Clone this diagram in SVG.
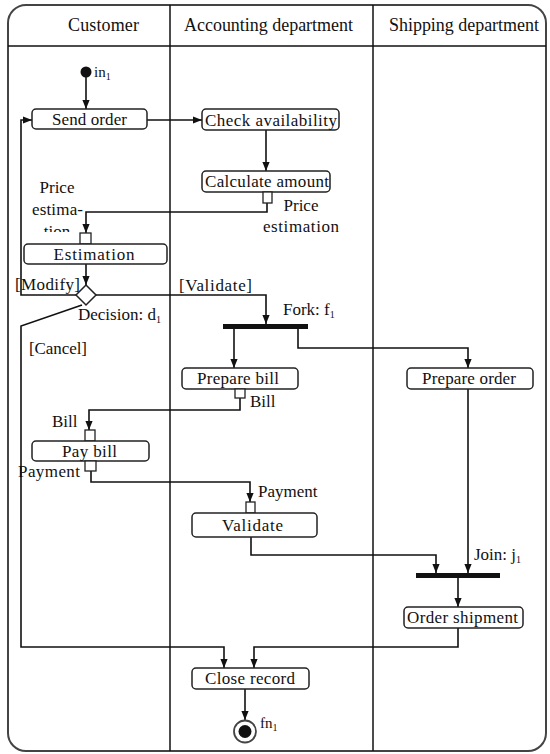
<svg xmlns="http://www.w3.org/2000/svg" width="550" height="754" viewBox="0 0 550 754">
<style>
text{font-family:"Times New Roman","Liberation Serif",Times,"DejaVu Serif","Noto Serif",serif;font-size:17px;fill:#111}
.hd{font-size:18px}
.sub{font-size:10px}
.box{fill:#fff;stroke:#222;stroke-width:1.5}
.pin{fill:#fff;stroke:#222;stroke-width:1.3}
.ln{fill:none;stroke:#111;stroke-width:1.6}
.lane{fill:none;stroke:#111;stroke-width:1.5}
.bar{fill:#111}
.c{text-anchor:middle}
</style>
<defs>
<marker id="ah" viewBox="0 0 10 10" refX="10" refY="5" markerWidth="9" markerHeight="9" orient="auto" markerUnits="userSpaceOnUse"><path d="M0,1 L10,5 L0,9 z" fill="#111"/></marker>
<clipPath id="clipTion"><rect x="0" y="170" width="170" height="62"/></clipPath>
</defs>
<rect width="550" height="754" fill="#fff"/>
<g id="frame">
<rect x="8" y="5" width="538" height="746" rx="18" ry="18" fill="none" stroke="#444" stroke-width="2"/>
<line class="lane" x1="8" y1="46" x2="546" y2="46"/>
<line class="lane" x1="170" y1="5" x2="170" y2="751"/>
<line class="lane" x1="373" y1="5" x2="373" y2="751"/>
<text class="hd c" x="103.5" y="31" textLength="71">Customer</text>
<text class="hd c" x="268.5" y="31" textLength="169">Accounting department</text>
<text class="hd c" x="464" y="31" textLength="150">Shipping department</text>
</g>
<g id="connectors">
<line class="ln" x1="86" y1="77" x2="86" y2="109" marker-end="url(#ah)"/>
<line class="ln" x1="147" y1="120" x2="202" y2="120" marker-end="url(#ah)"/>
<line class="ln" x1="266" y1="130" x2="266" y2="171" marker-end="url(#ah)"/>
<polyline class="ln" points="267,203 267,212 86,212 86,233" marker-end="url(#ah)"/>
<line class="ln" x1="86" y1="264" x2="86" y2="285" marker-end="url(#ah)"/>
<polyline class="ln" points="76,295 21,295 21,120 32,120" marker-end="url(#ah)"/>
<polyline class="ln" points="96,295 266,295 266,324" marker-end="url(#ah)"/>
<polyline class="ln" points="82,305 21,326 21,647 224,647 224,668" marker-end="url(#ah)"/>
<line class="ln" x1="234" y1="329" x2="234" y2="368" marker-end="url(#ah)"/>
<polyline class="ln" points="298,329 298,348 468,348 468,368" marker-end="url(#ah)"/>
<polyline class="ln" points="240,398 240,410 89,410 89,430" marker-end="url(#ah)"/>
<polyline class="ln" points="91,471 91,482 250,482 250,502" marker-end="url(#ah)"/>
<polyline class="ln" points="251,537 251,555 436,555 436,573" marker-end="url(#ah)"/>
<line class="ln" x1="468" y1="389" x2="468" y2="573" marker-end="url(#ah)"/>
<line class="ln" x1="458" y1="578" x2="458" y2="607" marker-end="url(#ah)"/>
<polyline class="ln" points="458,628 458,647 254,647 254,668" marker-end="url(#ah)"/>
<line class="ln" x1="245" y1="689" x2="245" y2="720" marker-end="url(#ah)"/>
<text x="15" y="290" textLength="65">[Modify]</text>
<text x="179" y="291" textLength="73">[Validate]</text>
<text x="29" y="354" textLength="58">[Cancel]</text>
</g>
<g id="in1">
<circle cx="86" cy="72" r="5.5" fill="#111"/>
<text x="94" y="77" style="font-size:15px">in<tspan class="sub" dy="3">1</tspan></text>
</g>
<g id="send-order">
<rect class="box" x="32" y="109" width="115" height="20" rx="4"/>
<text class="c" x="89.5" y="125" textLength="75">Send order</text>
</g>
<g id="check-availability">
<rect class="box" x="202" y="109" width="137" height="21" rx="4"/>
<text class="c" x="271" y="125.5" textLength="132">Check availability</text>
</g>
<g id="calculate-amount">
<rect class="box" x="202" y="171" width="128" height="21" rx="4"/>
<text class="c" x="267" y="187" textLength="124">Calculate amount</text>
<rect class="pin" x="263" y="192" width="9" height="11"/>
<text class="c" x="301" y="211">Price</text>
<text class="c" x="301" y="232" textLength="76">estimation</text>
</g>
<g id="estimation">
<text class="c" x="57" y="193">Price</text>
<text class="c" x="57.5" y="215" textLength="51">estima-</text>
<text class="c" x="57" y="237" clip-path="url(#clipTion)">tion</text>
<rect class="pin" x="80" y="233" width="11" height="11"/>
<rect class="box" x="24" y="244" width="143" height="20" rx="4"/>
<text class="c" x="94" y="260" textLength="81">Estimation</text>
</g>
<g id="decision-d1">
<path d="M86,285 L96,295 L86,305 L76,295 Z" fill="#fff" stroke="#222" stroke-width="1.5"/>
<text x="78" y="320">Decision: d<tspan class="sub" dy="3">1</tspan></text>
</g>
<g id="fork-f1">
<rect class="bar" x="223" y="324" width="85" height="5"/>
<text x="283" y="315">Fork: f<tspan class="sub" dy="3">1</tspan></text>
</g>
<g id="prepare-bill">
<rect class="box" x="182" y="368" width="116" height="21" rx="4"/>
<text class="c" x="238" y="384" textLength="82">Prepare bill</text>
<rect class="pin" x="235" y="389" width="10" height="9"/>
<text x="250" y="407">Bill</text>
</g>
<g id="prepare-order">
<rect class="box" x="407" y="368" width="126" height="21" rx="4"/>
<text class="c" x="469" y="384" textLength="94">Prepare order</text>
</g>
<g id="pay-bill">
<text x="52" y="427">Bill</text>
<rect class="pin" x="85" y="430" width="10" height="11"/>
<rect class="box" x="32" y="441" width="117" height="20" rx="4"/>
<text class="c" x="89.5" y="457" textLength="55">Pay bill</text>
<rect class="pin" x="85" y="461" width="11" height="10"/>
<text x="18" y="477" textLength="62">Payment</text>
</g>
<g id="validate">
<text x="258" y="497">Payment</text>
<rect class="pin" x="246" y="502" width="9" height="11"/>
<rect class="box" x="192" y="513" width="125" height="24" rx="4"/>
<text class="c" x="252.5" y="531" textLength="61">Validate</text>
</g>
<g id="join-j1">
<rect class="bar" x="416" y="573" width="84" height="5"/>
<text x="474" y="560">Join: j<tspan class="sub" dy="3">1</tspan></text>
</g>
<g id="order-shipment">
<rect class="box" x="404" y="607" width="119" height="21" rx="4"/>
<text class="c" x="462.5" y="623" textLength="111">Order shipment</text>
</g>
<g id="close-record">
<rect class="box" x="192" y="668" width="117" height="21" rx="4"/>
<text class="c" x="250" y="684" textLength="90">Close record</text>
</g>
<g id="fn1">
<circle cx="245" cy="731.5" r="11" fill="#fff" stroke="#444" stroke-width="1.8"/>
<circle cx="245" cy="731.5" r="6.5" fill="#111"/>
<text x="260" y="728" style="font-size:15px">fn<tspan class="sub" dy="3">1</tspan></text>
</g>
</svg>
